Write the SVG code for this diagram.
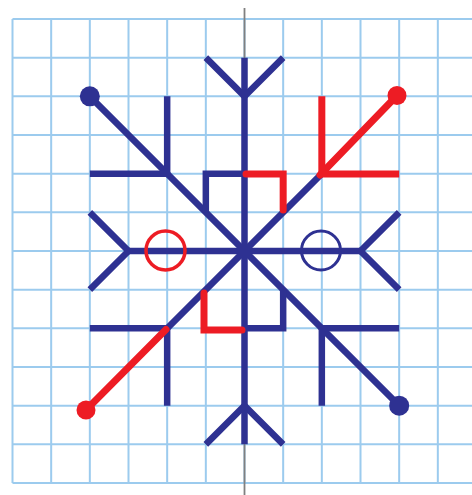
<svg xmlns="http://www.w3.org/2000/svg" width="472" height="495" viewBox="0 0 472 495">
<style>
.grid line{stroke:#9ccbee;stroke-width:2}
.b{stroke:#2e3192;stroke-width:6.5;stroke-linecap:butt;fill:none;stroke-linejoin:miter}
.r{stroke:#ed1c24;stroke-width:7;stroke-linecap:round;fill:none;stroke-linejoin:miter}
.bc{stroke:#2e3192;stroke-width:3;fill:none}
.rc{stroke:#ed1c24;stroke-width:3.5;fill:none}
</style>
<rect width="472" height="495" fill="#ffffff"/>
<g id="grid" class="grid">
<line x1="12.5" y1="19" x2="12.5" y2="483"/>
<line x1="51.17" y1="19" x2="51.17" y2="483"/>
<line x1="89.83" y1="19" x2="89.83" y2="483"/>
<line x1="128.5" y1="19" x2="128.5" y2="483"/>
<line x1="167.17" y1="19" x2="167.17" y2="483"/>
<line x1="205.83" y1="19" x2="205.83" y2="483"/>
<line x1="244.5" y1="19" x2="244.5" y2="483"/>
<line x1="283.17" y1="19" x2="283.17" y2="483"/>
<line x1="321.83" y1="19" x2="321.83" y2="483"/>
<line x1="360.5" y1="19" x2="360.5" y2="483"/>
<line x1="399.17" y1="19" x2="399.17" y2="483"/>
<line x1="437.83" y1="19" x2="437.83" y2="483"/>
<line x1="12.5" y1="19" x2="472" y2="19"/>
<line x1="12.5" y1="57.67" x2="472" y2="57.67"/>
<line x1="12.5" y1="96.33" x2="472" y2="96.33"/>
<line x1="12.5" y1="135" x2="472" y2="135"/>
<line x1="12.5" y1="173.67" x2="472" y2="173.67"/>
<line x1="12.5" y1="212.33" x2="472" y2="212.33"/>
<line x1="12.5" y1="251" x2="472" y2="251"/>
<line x1="12.5" y1="289.67" x2="472" y2="289.67"/>
<line x1="12.5" y1="328.33" x2="472" y2="328.33"/>
<line x1="12.5" y1="367" x2="472" y2="367"/>
<line x1="12.5" y1="405.67" x2="472" y2="405.67"/>
<line x1="12.5" y1="444.33" x2="472" y2="444.33"/>
<line x1="12.5" y1="483" x2="472" y2="483"/>
</g>
<g id="axis">
<line x1="244.5" y1="8" x2="244.5" y2="495" stroke="#808080" stroke-width="1.8"/>
</g>
<g id="snowflake-blue" class="b">
<line x1="244.5" y1="57.67" x2="244.5" y2="444.33"/>
<polyline points="205.83,57.67 244.5,96.33 283.17,57.67"/>
<polyline points="205.83,444.33 244.5,405.67 283.17,444.33"/>
<line x1="128.5" y1="251" x2="360.5" y2="251"/>
<polyline points="89.83,212.33 128.5,251 89.83,289.67"/>
<polyline points="399.17,212.33 360.5,251 399.17,289.67"/>
<line x1="89.83" y1="96.33" x2="399.17" y2="405.67"/>
<line x1="321.83" y1="173.67" x2="167.17" y2="328.33"/>
<polyline points="167.17,96.33 167.17,173.67 89.83,173.67"/>
<polyline points="89.83,328.33 167.17,328.33 167.17,405.67"/>
<polyline points="321.83,405.67 321.83,328.33 399.17,328.33"/>
<polyline points="205.83,212.33 205.83,173.67 244.5,173.67"/>
<polyline points="244.5,328.33 283.17,328.33 283.17,289.67"/>
<circle cx="89.83" cy="96.33" r="10" fill="#2e3192" stroke="none"/>
<circle cx="399.17" cy="405.67" r="10" fill="#2e3192" stroke="none"/>
</g>
<g id="snowflake-red" class="r">
<line x1="397" y1="95.5" x2="320" y2="175"/>
<polyline points="321.83,96.33 321.83,174 399.17,174" stroke-linecap="butt"/>
<polyline points="246,174 283.17,174 283.17,210" />
<line x1="86" y1="410" x2="166" y2="329.5"/>
<polyline points="204,293 204,330 242,330"/>
<circle cx="397" cy="95.5" r="9.5" fill="#ed1c24" stroke="none"/>
<circle cx="86" cy="410" r="9.5" fill="#ed1c24" stroke="none"/>
</g>
<g id="circles">
<circle class="rc" cx="165.5" cy="250.5" r="19.5"/>
<circle class="bc" cx="321" cy="250.5" r="19.5"/>
</g>
</svg>
